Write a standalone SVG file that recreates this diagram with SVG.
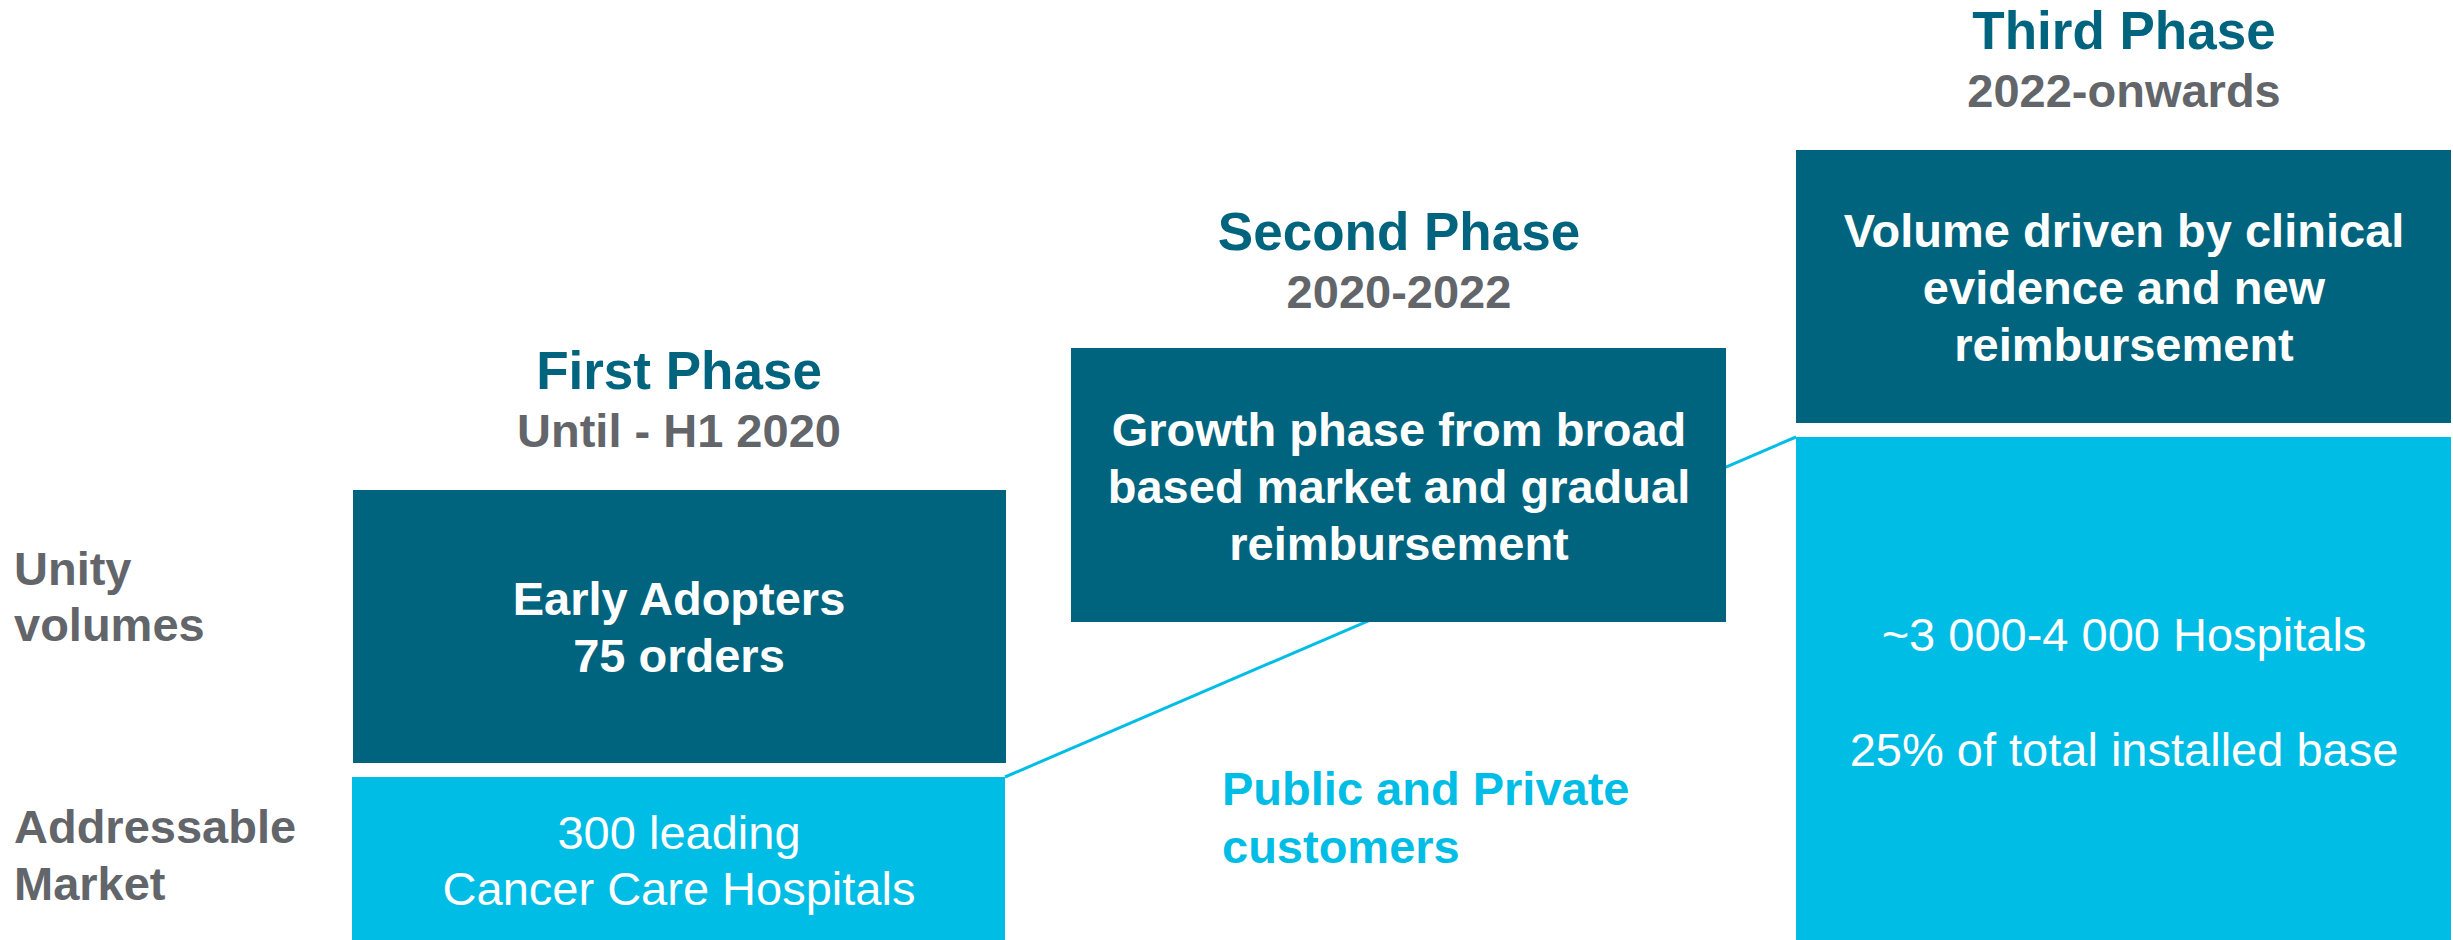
<svg xmlns="http://www.w3.org/2000/svg" width="2453" height="940" viewBox="0 0 2453 940">
  <style>
    text { font-family: "Liberation Sans", Arial, sans-serif; }
    .title { font-size: 53px; font-weight: bold; fill: #00647e; text-anchor: middle; }
    .period { font-size: 47px; font-weight: bold; fill: #626569; text-anchor: middle; }
    .rowlabel { font-size: 47px; font-weight: bold; fill: #626569; }
    .dark { fill: #00647e; }
    .light { fill: #00bde6; }
    .boldtxt { font-size: 47px; font-weight: bold; fill: #ffffff; text-anchor: middle; }
    .regtxt { font-size: 47px; fill: #ffffff; text-anchor: middle; }
    .note { font-size: 47px; font-weight: bold; fill: #00bde6; }
    .link { stroke: #00bde6; stroke-width: 3; fill: none; }
  </style>

  <rect width="2453" height="940" fill="#ffffff"/>

  <!-- growth line, drawn beneath the boxes -->
  <g id="connectors">
    <line class="link" x1="1005" y1="777" x2="1796" y2="437"/>
  </g>

  <!-- row labels -->
  <g id="row-labels">
    <text class="rowlabel" x="14" y="585">Unity</text>
    <text class="rowlabel" x="14" y="641">volumes</text>
    <text class="rowlabel" x="14" y="843">Addressable</text>
    <text class="rowlabel" x="14" y="900">Market</text>
  </g>

  <!-- phase 1 -->
  <g id="phase1-header">
    <text class="title" x="679" y="389">First Phase</text>
    <text class="period" x="679" y="447">Until - H1 2020</text>
  </g>
  <g id="phase1-volumes">
    <rect class="dark" x="353" y="490" width="653" height="273"/>
    <text class="boldtxt" x="679" y="615">Early Adopters</text>
    <text class="boldtxt" x="679" y="672">75 orders</text>
  </g>
  <g id="phase1-market">
    <rect class="light" x="352" y="777" width="653" height="163"/>
    <text class="regtxt" x="679" y="849">300 leading</text>
    <text class="regtxt" x="679" y="905">Cancer Care Hospitals</text>
  </g>

  <!-- phase 2 -->
  <g id="phase2-header">
    <text class="title" x="1399" y="250">Second Phase</text>
    <text class="period" x="1399" y="308">2020-2022</text>
  </g>
  <g id="phase2-volumes">
    <rect class="dark" x="1071" y="348" width="655" height="274"/>
    <text class="boldtxt" x="1399" y="446">Growth phase from broad</text>
    <text class="boldtxt" x="1399" y="503">based market and gradual</text>
    <text class="boldtxt" x="1399" y="560">reimbursement</text>
  </g>
  <g id="phase2-market">
    <text class="note" x="1222" y="805">Public and Private</text>
    <text class="note" x="1222" y="863">customers</text>
  </g>

  <!-- phase 3 -->
  <g id="phase3-header">
    <text class="title" x="2124" y="49">Third Phase</text>
    <text class="period" x="2124" y="107">2022-onwards</text>
  </g>
  <g id="phase3-volumes">
    <rect class="dark" x="1796" y="150" width="655" height="273"/>
    <text class="boldtxt" x="2124" y="247">Volume driven by clinical</text>
    <text class="boldtxt" x="2124" y="304">evidence and new</text>
    <text class="boldtxt" x="2124" y="361">reimbursement</text>
  </g>
  <g id="phase3-market">
    <rect class="light" x="1796" y="437" width="655" height="503"/>
    <text class="regtxt" x="2124" y="651">~3 000-4 000 Hospitals</text>
    <text class="regtxt" x="2124" y="766">25% of total installed base</text>
  </g>
</svg>
